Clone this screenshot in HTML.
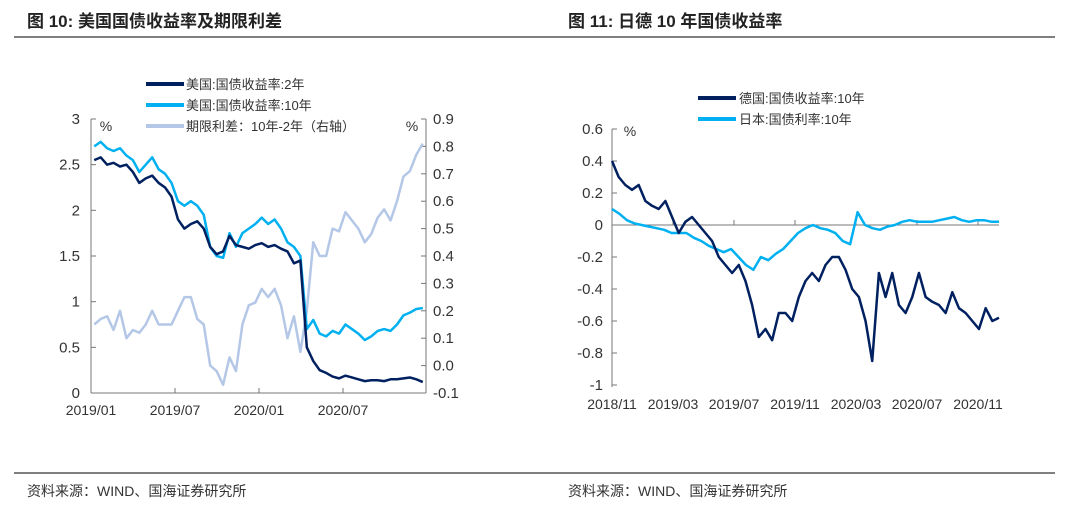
<!DOCTYPE html>
<html><head><meta charset="utf-8"><style>
body{margin:0;background:#fff;width:1080px;height:512px;overflow:hidden;font-family:"Liberation Sans","Noto Sans CJK SC",sans-serif;}
svg text{font-family:"Liberation Sans","Noto Sans CJK SC",sans-serif;}
</style></head><body>
<svg id="s" width="1080" height="512">
<text x="27" y="27" font-size="17" font-weight="bold" fill="#222">图 10:  美国国债收益率及期限利差</text>
<text x="568" y="27" font-size="17" font-weight="bold" fill="#222">图 11:  日德 10 年国债收益率</text>
<line x1="14" y1="37" x2="1055" y2="37" stroke="#555" stroke-width="1.5"/>
<line x1="14" y1="473" x2="1055" y2="473" stroke="#555" stroke-width="1.5"/>
<text x="27" y="496" font-size="14" fill="#333">资料来源：WIND、国海证券研究所</text>
<text x="568" y="496" font-size="14" fill="#333">资料来源：WIND、国海证券研究所</text>
<g id="c1"></g>
<g id="c2"></g>
</svg>
<script>
const us2y=[2.55,2.58,2.5,2.52,2.48,2.5,2.42,2.3,2.35,2.38,2.3,2.25,2.15,1.9,1.8,1.85,1.88,1.8,1.6,1.52,1.55,1.72,1.62,1.6,1.58,1.62,1.64,1.6,1.62,1.58,1.55,1.42,1.45,0.5,0.35,0.25,0.22,0.18,0.16,0.19,0.17,0.15,0.13,0.14,0.14,0.13,0.15,0.15,0.16,0.17,0.15,0.12];
const us10y=[2.7,2.75,2.68,2.65,2.68,2.6,2.55,2.42,2.5,2.58,2.45,2.4,2.3,2.1,2.05,2.1,2.05,1.95,1.6,1.5,1.48,1.75,1.6,1.75,1.8,1.85,1.92,1.85,1.9,1.8,1.65,1.6,1.5,0.7,0.8,0.65,0.62,0.68,0.65,0.75,0.7,0.65,0.58,0.62,0.68,0.7,0.68,0.75,0.85,0.88,0.92,0.93];
const usSpread=[0.15,0.17,0.18,0.13,0.2,0.1,0.13,0.12,0.15,0.2,0.15,0.15,0.15,0.2,0.25,0.25,0.17,0.15,0.0,-0.02,-0.07,0.03,-0.02,0.15,0.22,0.23,0.28,0.25,0.28,0.22,0.1,0.18,0.05,0.2,0.45,0.4,0.4,0.5,0.49,0.56,0.53,0.5,0.45,0.48,0.54,0.57,0.53,0.6,0.69,0.71,0.77,0.81];
const leftTicks=["0","0.5","1","1.5","2","2.5","3"];
const rightTicks=["-0.1","0.0","0.1","0.2","0.3","0.4","0.5","0.6","0.7","0.8","0.9"];
const xLabels1=["2019/01","2019/07","2020/01","2020/07"];
const de10y=[0.4,0.3,0.25,0.22,0.25,0.15,0.12,0.1,0.15,0.05,-0.05,0.02,0.05,0.0,-0.05,-0.1,-0.2,-0.25,-0.3,-0.25,-0.35,-0.5,-0.7,-0.65,-0.72,-0.55,-0.55,-0.6,-0.45,-0.35,-0.3,-0.35,-0.25,-0.2,-0.2,-0.28,-0.4,-0.45,-0.6,-0.85,-0.3,-0.45,-0.3,-0.5,-0.55,-0.45,-0.3,-0.45,-0.48,-0.5,-0.55,-0.42,-0.52,-0.55,-0.6,-0.65,-0.52,-0.6,-0.58];
const jp10y=[0.1,0.07,0.03,0.01,0.0,-0.01,-0.02,-0.03,-0.05,-0.05,-0.05,-0.08,-0.1,-0.13,-0.15,-0.17,-0.15,-0.2,-0.25,-0.28,-0.2,-0.22,-0.18,-0.15,-0.1,-0.05,-0.02,0.0,-0.02,-0.03,-0.05,-0.1,-0.12,0.08,0.0,-0.02,-0.03,-0.01,0.0,0.02,0.03,0.02,0.02,0.02,0.03,0.04,0.05,0.03,0.02,0.03,0.03,0.02,0.02];
const yTicks2=["-1","-0.8","-0.6","-0.4","-0.2","0","0.2","0.4","0.6"];
const xLabels2=["2018/11","2019/03","2019/07","2019/11","2020/03","2020/07","2020/11"];
const NS="http://www.w3.org/2000/svg";
function mk(p,t,a){const e=document.createElementNS(NS,t);for(const k in a)e.setAttribute(k,a[k]);p.appendChild(e);return e;}
function txt(p,x,y,s,anc,size){const e=mk(p,'text',{x:x,y:y,'text-anchor':anc,'font-size':size||14,fill:'#333'});e.textContent=s;return e;}
// chart 1
const g1=document.getElementById('c1');
const X1=i=>91+(i+0.5)/us2y.length*335, Y1=v=>393-v/3*274, YR=v=>393-(v+0.1)/1*274;
function series(g,arr,fx,fy,col,w,name,n){const e=mk(g,'polyline',{points:arr.map((v,i)=>fx(i,n)+','+fy(v)).join(' '),fill:'none',stroke:col,'stroke-width':w,'stroke-linejoin':'round'});

}
mk(g1,'line',{x1:91,y1:119,x2:91,y2:393,stroke:'#777'});
mk(g1,'line',{x1:426,y1:119,x2:426,y2:393,stroke:'#777'});
mk(g1,'line',{x1:91,y1:393,x2:426,y2:393,stroke:'#777'});
leftTicks.forEach((s,i)=>{const v=parseFloat(s),y=Y1(v);mk(g1,'line',{x1:91,y1:y,x2:96,y2:y,stroke:'#777'});txt(g1,80,y+5,s,'end',15);});
rightTicks.forEach((s,i)=>{const v=parseFloat(s),y=YR(v);mk(g1,'line',{x1:421,y1:y,x2:426,y2:y,stroke:'#777'});txt(g1,433,y+5,s,'start',15);});
xLabels1.forEach((s,i)=>{const x=91+i*84;if(i>0)mk(g1,'line',{x1:x,y1:388,x2:x,y2:393,stroke:'#777'});txt(g1,x,415,s,'middle',14);});
txt(g1,106,131,'%','middle',14);txt(g1,412,131,'%','middle',14);
series(g1,usSpread,i=>X1(i),YR,'#b4c7e7',2.5,'spread-line');
series(g1,us10y,i=>X1(i),Y1,'#00b0f0',2.5,'us10y-line');
series(g1,us2y,i=>X1(i),Y1,'#002060',2.5,'us2y-line');
const L1=[['美国:国债收益率:2年','#002060'],['美国:国债收益率:10年','#00b0f0'],['期限利差：10年-2年（右轴）','#b4c7e7']];
L1.forEach((l,i)=>{const y=84+i*21;const lg=mk(g1,'g',{});


mk(lg,'line',{x1:146,y1:y,x2:184,y2:y,stroke:l[1],'stroke-width':4});txt(lg,186,y+5,l[0],'start',13);});
// chart 2
const g2=document.getElementById('c2');
const Y2=v=>225-v*160;
const X2=(i,n)=>612+i/(n-1)*387;
mk(g2,'line',{x1:612,y1:129,x2:612,y2:387,stroke:'#777'});
mk(g2,'line',{x1:612,y1:Y2(0),x2:999,y2:Y2(0),stroke:'#777'});
yTicks2.forEach(s=>{const y=Y2(parseFloat(s));mk(g2,'line',{x1:612,y1:y,x2:617,y2:y,stroke:'#777'});txt(g2,603,y+5,s,'end',15);});
xLabels2.forEach((s,i)=>{const x=612+i*61;if(i>0)mk(g2,'line',{x1:x,y1:Y2(0)-5,x2:x,y2:Y2(0),stroke:'#777'});txt(g2,x,409,s,'middle',14);});
txt(g2,630,136,'%','middle',14);
series(g2,jp10y,i=>X2(i,jp10y.length),Y2,'#00b0f0',2.5,'jp10y-line');
series(g2,de10y,i=>X2(i,de10y.length),Y2,'#002060',2.5,'de10y-line');
const L2=[['德国:国债收益率:10年','#002060'],['日本:国债利率:10年','#00b0f0']];
L2.forEach((l,i)=>{const y=98+i*21;const lg=mk(g2,'g',{});


mk(lg,'line',{x1:698,y1:y,x2:736,y2:y,stroke:l[1],'stroke-width':4});txt(lg,739,y+5,l[0],'start',13);});
</script>
</body></html>
